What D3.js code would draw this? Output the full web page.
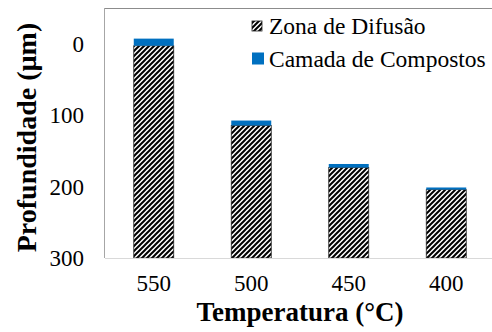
<!DOCTYPE html>
<html>
<head>
<meta charset="utf-8">
<script src="https://cdn.jsdelivr.net/npm/d3@7"></script>
<style>
  html, body { margin: 0; padding: 0; background: #fff; }
  svg { display: block; }
  text { font-family: "Liberation Serif", "Times New Roman", serif; fill: #000; }
</style>
</head>
<body>
<svg id="chart" width="492" height="332"></svg>
<script>
// Temperatures (°C) on the x axis
const temperatures = ["550", "500", "450", "400"];
// Depth (µm) where the diffusion zone ends, measured from the surface
const diffusionTop = [2, 114, 173, 204];
// Thickness (µm) of the compound layer sitting on top of the diffusion zone
const compoundLayer = [10, 7, 5, 3];
// Axis ticks
const yTicks = [0, 100, 200, 300];
const seriesNames = ["Zona de Difusão", "Camada de Compostos"];

const W = 492, H = 332;
const margin = { left: 105, top: 8, right: -3, bottom: 74 };
const svg = d3.select("#chart");
const serif = '"Liberation Serif", "Times New Roman", serif';

const defs = svg.append("defs");
const pat = defs.append("pattern")
  .attr("id", "hatch")
  .attr("patternUnits", "userSpaceOnUse")
  .attr("width", 5).attr("height", 5);
pat.append("rect").attr("width", 5).attr("height", 5).attr("fill", "#fff");
pat.append("path")
  .attr("d", "M-1,1 L1,-1 M0,5 L5,0 M4,6 L6,4")
  .attr("stroke", "#000").attr("stroke-width", 2);

const x = d3.scaleBand()
  .domain(temperatures)
  .range([margin.left, W - margin.right])
  .paddingInner(0.59).paddingOuter(0.295);

// depth grows downward; the plot bottom is at 300 µm
const y = d3.scaleLinear()
  .domain([-51, 300])
  .range([margin.top, H - margin.bottom]);

const base = 300;

// plot area frame
const g = svg.append("g");
g.append("line")
  .attr("x1", margin.left).attr("x2", W)
  .attr("y1", y(-51) + 0.5).attr("y2", y(-51) + 0.5)
  .attr("stroke", "#8c8c8c").attr("stroke-width", 1);
g.append("line")
  .attr("x1", margin.left - 0.5).attr("x2", margin.left - 0.5)
  .attr("y1", y(-51)).attr("y2", y(base))
  .attr("stroke", "#a6a6a6").attr("stroke-width", 1);

// diffusion zone bars (hatched)
svg.append("g").selectAll("rect")
  .data(temperatures)
  .join("rect")
  .attr("x", d => x(d))
  .attr("width", x.bandwidth())
  .attr("y", (d, i) => y(diffusionTop[i]))
  .attr("height", (d, i) => y(base) - y(diffusionTop[i]))
  .attr("fill", "url(#hatch)")
  .attr("stroke", "#222").attr("stroke-width", 0.8);

// compound layer caps
svg.append("g").selectAll("rect")
  .data(temperatures)
  .join("rect")
  .attr("x", d => x(d))
  .attr("width", x.bandwidth())
  .attr("y", (d, i) => y(diffusionTop[i] - compoundLayer[i]))
  .attr("height", (d, i) => y(diffusionTop[i]) - y(diffusionTop[i] - compoundLayer[i]))
  .attr("fill", "#0070C0");

// bottom axis line
svg.append("line")
  .attr("x1", margin.left).attr("x2", W)
  .attr("y1", y(base) + 0.5).attr("y2", y(base) + 0.5)
  .attr("stroke", "#d9d9d9").attr("stroke-width", 1.2);

// y axis labels
const yAxis = d3.axisLeft(y).tickValues(yTicks).tickSize(0).tickPadding(21);
const ya = svg.append("g").attr("transform", `translate(${margin.left},0)`).call(yAxis);
ya.select(".domain").remove();
ya.selectAll("text")
  .style("font-family", serif)
  .style("font-size", "23px").attr("fill", "#000");

// x axis labels
const xAxis = d3.axisBottom(x).tickSize(0).tickPadding(17);
const xa = svg.append("g").attr("transform", `translate(0,${y(base)})`).call(xAxis);
xa.select(".domain").remove();
xa.selectAll("text")
  .style("font-family", serif)
  .style("font-size", "23px").attr("fill", "#000");

// axis titles
svg.append("text")
  .attr("x", 300).attr("y", 321)
  .attr("text-anchor", "middle")
  .style("font-size", "27px").style("font-weight", "bold")
  .text("Temperatura (°C)");

svg.append("text")
  .attr("transform", "translate(36,137.5) rotate(-90)")
  .attr("text-anchor", "middle")
  .style("font-size", "28px").style("font-weight", "bold")
  .text("Profundidade (µm)");

// legend
const legend = svg.append("g");
const lx = 252, baselines = [34, 67];
legend.append("rect")
  .attr("x", lx).attr("y", 21).attr("width", 10).attr("height", 10)
  .attr("fill", "url(#hatch)").attr("stroke", "#222").attr("stroke-width", 0.8);
legend.append("rect")
  .attr("x", lx).attr("y", 52.5).attr("width", 12).attr("height", 12)
  .attr("fill", "#0070C0");
legend.selectAll("text")
  .data(seriesNames)
  .join("text")
  .attr("x", 269)
  .attr("y", (d, i) => baselines[i])
  .style("font-size", "23.5px")
  .text(d => d);
</script>
</body>
</html>
